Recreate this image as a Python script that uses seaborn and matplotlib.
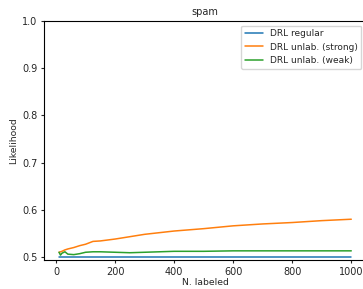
import matplotlib
matplotlib.use("Agg")
import matplotlib.pyplot as plt
import pandas as pd
import seaborn as sns

n_labeled = [10, 15, 20, 30, 40, 60, 80, 100, 125, 150, 200, 250, 300, 400, 500, 600, 700, 800, 900, 1000]
regular = [0.500] * len(n_labeled)
strong = [0.510, 0.511, 0.512, 0.515, 0.517, 0.520, 0.524, 0.527, 0.533, 0.534, 0.538, 0.543, 0.548,
          0.555, 0.560, 0.566, 0.570, 0.573, 0.577, 0.580]
weak = [0.510, 0.504, 0.508, 0.511, 0.506, 0.505, 0.507, 0.510, 0.511, 0.511, 0.510, 0.509, 0.510,
        0.512, 0.512, 0.513, 0.513, 0.513, 0.513, 0.513]
labels = ["DRL regular", "DRL unlab. (strong)", "DRL unlab. (weak)"]

df = pd.concat([
    pd.DataFrame({"N. labeled": n_labeled, "Likelihood": vals, "method": name})
    for name, vals in zip(labels, [regular, strong, weak])
])

sns.set_style("ticks")
plt.rcParams["font.family"] = ["DejaVu Sans"]

# axes runs slightly past the right edge, as in the reference crop
fig = plt.figure(figsize=(3.63, 2.89), dpi=100)
ax = fig.add_axes([44.4 / 363, 29 / 289, 321.5 / 363, 239 / 289])
sns.lineplot(data=df, x="N. labeled", y="Likelihood", hue="method",
             palette=["#1f77b4", "#ff7f0e", "#2ca02c"], linewidth=1.1, ax=ax)
ax.set_ylim(0.4936, 1.0)
ax.set_xticks([0, 200, 400, 600, 800, 1000])
ax.set_yticks([0.5, 0.6, 0.7, 0.8, 0.9, 1.0])
ax.tick_params(labelsize=7, length=2.5, width=0.8, pad=2.5)
ax.set_xlabel("N. labeled", fontsize=6.7, labelpad=1)
ax.set_ylabel("Likelihood", fontsize=6.7, labelpad=2.5)
ax.set_title("spam", fontsize=7, pad=4)
for s in ax.spines.values():
    s.set_color("black")
    s.set_linewidth(0.8)
ax.legend(loc="upper right", fontsize=6.5, frameon=True, handlelength=2)

fig.savefig("out.png", dpi=100)
